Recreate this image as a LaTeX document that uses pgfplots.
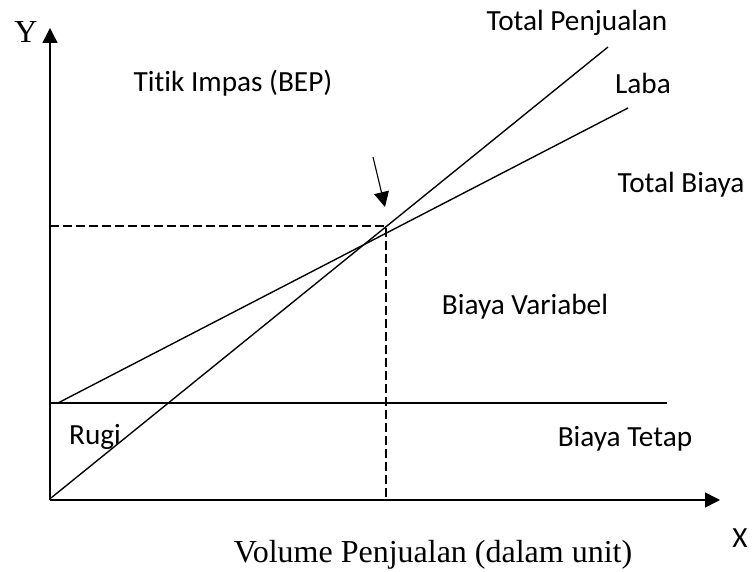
\documentclass[border=0pt]{standalone}
\usepackage{fontspec}
\setmainfont[Ligatures={NoCommon}]{Carlito}
\newfontfamily\timesfont{Liberation Serif}
\usepackage{pgfplots}
\pgfplotsset{compat=1.18}
\usetikzlibrary{arrows.meta}
\begin{document}
\begin{tikzpicture}
\begin{axis}[
  x=0.4bp, y=0.4bp,
  xmin=0, xmax=670, ymin=0, ymax=472,
  axis lines=left,
  axis line style={line width=0.6bp, -{Triangle[length=6bp,width=6bp]}},
  xtick=\empty, ytick=\empty,
  clip=false,
  nodes={font=\fontsize{11.7bp}{14bp}\selectfont, inner sep=0pt},
]
% Total Penjualan (sales revenue)
\addplot[black, line width=0.55bp] coordinates {(1,2) (558,453)};
% Total Biaya (total cost)
\addplot[black, line width=0.55bp] coordinates {(8,97) (578,392)};
% Biaya Tetap (fixed cost)
\addplot[black, line width=0.55bp] coordinates {(0,97) (617,97)};
% BEP guide lines
\addplot[black, line width=1.1bp, dash pattern=on 3.6bp off 1.6bp] coordinates {(0,274) (336,274) (336,0)};
% pointer arrow
\addplot[black, line width=0.45bp, -{Triangle[length=6bp,width=6bp]}] coordinates {(323,343) (335,293)};

\node at (axis cs:183,417) {Titik Impas (BEP)};
\node at (axis cs:527,477) {Total Penjualan};
\node at (axis cs:593,417) {Laba};
\node at (axis cs:631,315) {Total Biaya};
\node at (axis cs:475,193) {Biaya Variabel};
\node at (axis cs:45,63) {Rugi};
\node at (axis cs:575,61) {Biaya Tetap};
\node at (axis cs:690,-38) {X};
\node[font=\timesfont\fontsize{12.8bp}{15bp}\selectfont] at (axis cs:-24,468) {Y};
\node[font=\timesfont\fontsize{12.8bp}{15bp}\selectfont] at (axis cs:383,-55) {Volume Penjualan (dalam unit)};

\coordinate (bl) at (axis cs:-50,-72);
\coordinate (tr) at (axis cs:702,500);
\end{axis}
\pgfresetboundingbox
\path (bl) rectangle (tr);
\end{tikzpicture}
\end{document}
